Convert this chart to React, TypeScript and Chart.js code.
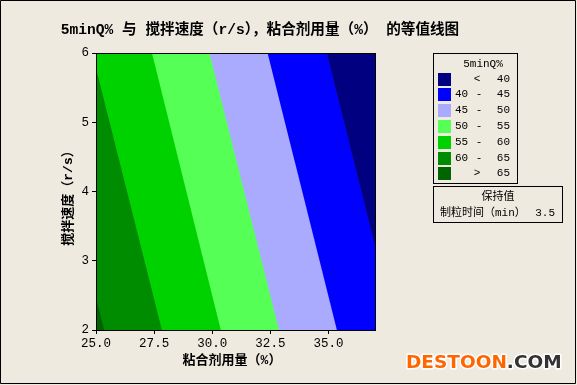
import React, { useEffect, useRef } from "react";
import { Chart, registerables } from "chart.js";

Chart.register(...registerables);

// Axis ranges and ticks
const xRange = [25, 37];
const yRange = [2, 6];
const xTicks = [25, 27.5, 30, 32.5, 35];
const yTicks = [2, 3, 4, 5, 6];

// Contour levels of 5minQ% and where each level line meets the top (6 r/s) and bottom (2 r/s) of the plot
const levels = [40, 45, 50, 55, 60, 65];
const levelXAtTop = [34.92, 32.38, 29.88, 27.41, 24.84, 22.38];
const levelXAtBottom = [37.9, 35.36, 32.87, 30.37, 27.84, 25.36];

// Band colours, from the lowest band (< 40) to the highest (> 65)
const bandColors = ["#000080", "#0000FF", "#AAAAFF", "#55FF55", "#00D200", "#008C00", "#006400"];

const titleText = "5minQ% 与 搅拌速度（r/s），粘合剂用量（%） 的等值线图";
const xTitle = "粘合剂用量（%）";
const yTitle = "搅拌速度（r/s）";
const legendTitle = "5minQ%";
const holdHeader = "保持值";
const holdName = "制粒时间（min）";
const holdValue = "3.5";

const BG = "#EEEAE0";
const MONO = '"Liberation Mono", "Noto Sans CJK SC", monospace';

function bandPolygon(i: number) {
  const far = 10;
  const rightTop = i === 0 ? xRange[1] + far : levelXAtTop[i - 1];
  const rightBottom = i === 0 ? xRange[1] + far : levelXAtBottom[i - 1];
  const leftTop = i === levels.length ? xRange[0] - far : levelXAtTop[i];
  const leftBottom = i === levels.length ? xRange[0] - far : levelXAtBottom[i];
  return [
    { x: leftTop, y: yRange[1] },
    { x: rightTop, y: yRange[1] },
    { x: rightBottom, y: yRange[0] },
    { x: leftBottom, y: yRange[0] },
  ];
}

function bandLabel(i: number): [string, string, string] {
  if (i === 0) return ["", "<", String(levels[0])];
  if (i === levels.length) return ["", ">", String(levels[levels.length - 1])];
  return [String(levels[i - 1]), "-", String(levels[i])];
}

const decorPlugin = {
  id: "decor",
  beforeDraw(chart: any) {
    const ctx = chart.ctx;
    ctx.save();
    ctx.fillStyle = BG;
    ctx.fillRect(0, 0, chart.width, chart.height);
    ctx.restore();
  },
  afterDraw(chart: any) {
    const ctx = chart.ctx;
    const a = chart.chartArea;
    ctx.save();

    // frame around the plot
    ctx.strokeStyle = "#000";
    ctx.lineWidth = 1;
    ctx.strokeRect(Math.round(a.left) + 0.5, Math.round(a.top) + 0.5, Math.round(a.right - a.left), Math.round(a.bottom - a.top));

    // title
    ctx.fillStyle = "#000";
    ctx.textBaseline = "middle";
    ctx.textAlign = "center";
    ctx.font = `bold 14.6px ${MONO}`;
    ctx.fillText(titleText, 260, 30);

    // axis titles
    ctx.font = `bold 13px ${MONO}`;
    ctx.fillText(xTitle, 232, 361);
    ctx.save();
    ctx.translate(69, 195);
    ctx.rotate(-Math.PI / 2);
    ctx.fillText(yTitle, 0, 0);
    ctx.restore();

    // legend box
    ctx.strokeRect(433.5, 53.5, 84, 130);
    ctx.font = `11px ${MONO}`;
    ctx.fillText(legendTitle, 483, 64);
    const rows = bandColors.length;
    for (let i = 0; i < rows; i++) {
      const top = 72.5 + i * 15.8;
      ctx.fillStyle = bandColors[i];
      ctx.fillRect(438, Math.round(top), 13, 13);
      const [lo, sep, hi] = bandLabel(i);
      const cy = Math.round(top) + 6.5;
      ctx.fillStyle = "#000";
      ctx.textAlign = "left";
      if (lo) ctx.fillText(lo, 455, cy);
      ctx.textAlign = "center";
      ctx.fillText(sep, i === 0 || i === rows - 1 ? 477 : 479, cy);
      ctx.textAlign = "right";
      ctx.fillText(hi, 510, cy);
    }

    // hold values box
    ctx.strokeRect(433.5, 186.5, 129, 36);
    ctx.textAlign = "center";
    ctx.font = `11px ${MONO}`;
    ctx.fillText(holdHeader, 498, 197);
    ctx.textAlign = "left";
    ctx.fillText(holdName, 440, 213);
    ctx.textAlign = "right";
    ctx.fillText(holdValue, 555, 213);

    // site mark
    ctx.font = 'bold 18.5px "DejaVu Sans", sans-serif';
    ctx.textAlign = "left";
    ctx.textBaseline = "alphabetic";
    const partA = "DESTOON";
    const partB = ".COM";
    const wA = ctx.measureText(partA).width;
    ctx.lineJoin = "round";
    ctx.lineWidth = 3;
    ctx.strokeStyle = "#FFFFFF";
    ctx.strokeText(partA, 406, 368);
    ctx.strokeText(partB, 406 + wA, 368);
    ctx.fillStyle = "#FF6600";
    ctx.fillText(partA, 406, 368);
    ctx.fillStyle = "#333333";
    ctx.fillText(partB, 406 + wA, 368);

    // outer border
    ctx.strokeStyle = "#000";
    ctx.lineWidth = 1;
    ctx.strokeRect(0.5, 0.5, 575, 383);
    ctx.restore();
  },
};

export default function App() {
  const ref = useRef<HTMLCanvasElement | null>(null);

  useEffect(() => {
    if (!ref.current) return;
    const datasets = bandColors.map((c, i) => ({
      label: bandLabel(i).join(" "),
      data: bandPolygon(i),
      showLine: true,
      fill: "shape",
      backgroundColor: c,
      borderColor: c,
      borderWidth: 1,
      pointRadius: 0,
      tension: 0,
      clip: 0,
    }));

    const chart = new Chart(ref.current, {
      type: "scatter",
      data: { datasets: datasets as any },
      options: {
        animation: false,
        responsive: false,
        devicePixelRatio: 1,
        events: [],
        layout: { padding: { left: 0, top: 53, right: 202, bottom: 0 } },
        plugins: { legend: { display: false }, tooltip: { enabled: false }, title: { display: false } },
        scales: {
          x: {
            type: "linear",
            min: xRange[0],
            max: xRange[1],
            afterBuildTicks: (s: any) => {
              s.ticks = xTicks.map((v) => ({ value: v }));
            },
            afterFit: (s: any) => {
              s.height = 55;
            },
            ticks: {
              color: "#000",
              font: { family: MONO, size: 12.5 },
              padding: 2,
              maxRotation: 0,
              autoSkip: false,
              callback: (v: any) => Number(v).toFixed(1),
            },
            grid: { display: true, drawOnChartArea: false, drawTicks: true, tickLength: 4, tickColor: "#000" },
            border: { display: true, color: "#000" },
          },
          y: {
            type: "linear",
            min: yRange[0],
            max: yRange[1],
            afterBuildTicks: (s: any) => {
              s.ticks = yTicks.map((v) => ({ value: v }));
            },
            afterFit: (s: any) => {
              s.width = 96;
            },
            ticks: {
              color: "#000",
              font: { family: MONO, size: 12.5 },
              padding: 3,
              autoSkip: false,
              callback: (v: any) => String(v),
            },
            grid: { display: true, drawOnChartArea: false, drawTicks: true, tickLength: 4, tickColor: "#000" },
            border: { display: true, color: "#000" },
          },
        },
      },
      plugins: [decorPlugin],
    } as any);

    return () => chart.destroy();
  }, []);

  return (
    <div style={{ position: "fixed", left: 0, top: 0, width: 577, height: 385, background: BG }}>
      <canvas ref={ref} width={577} height={385} style={{ display: "block", width: 577, height: 385 }} />
    </div>
  );
}
